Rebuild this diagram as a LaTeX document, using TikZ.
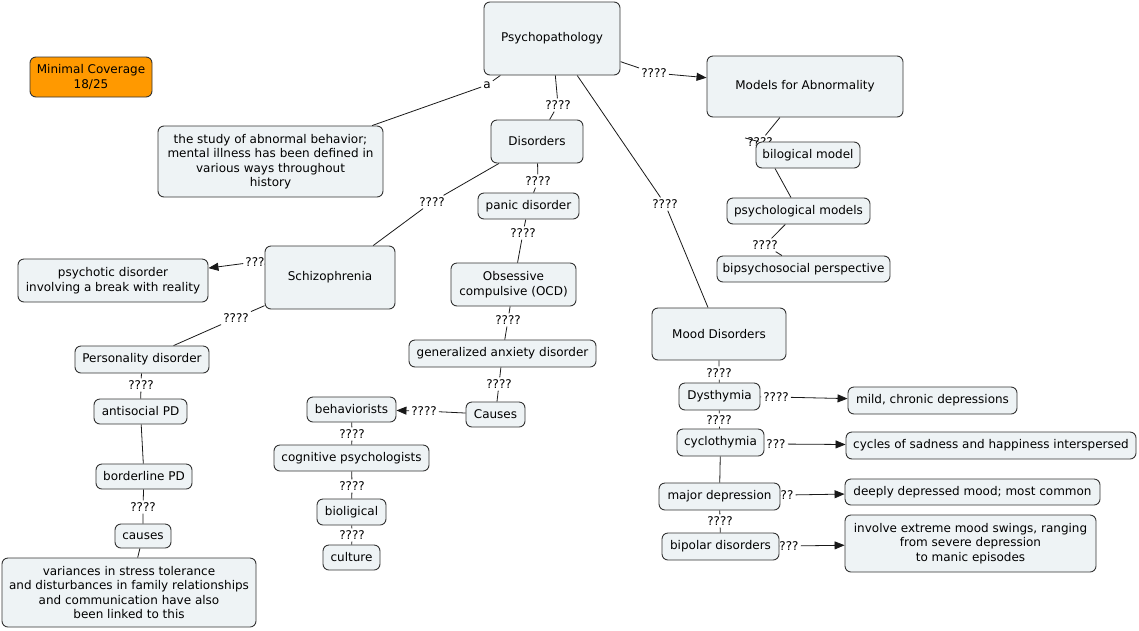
\documentclass[tikz,border=0pt]{standalone}
\usepackage{fontspec}
\setmainfont{DejaVu Sans}
\usetikzlibrary{arrows.meta,backgrounds}
\definecolor{boxfill}{HTML}{EEF3F5}
\definecolor{orangefill}{HTML}{FF9900}
\definecolor{edgecol}{HTML}{333333}
\newcommand{\bnode}[7][]{%
  \node[box,#1,minimum width={#5pt-#3pt},minimum height={#6pt-#4pt}] (#2) at ({(#3+#5)/2},{(#4+#6)/2}) {#7};}
\begin{document}
\begin{tikzpicture}[x=1pt,y=-1pt,
  font=\fontsize{12}{14.5}\selectfont,
  box/.style={draw=edgecol, fill=boxfill, rounded corners=6pt, line width=0.9pt, inner sep=0pt, align=center},
  lab/.style={fill=white, inner sep=2pt, font=\fontsize{12}{13}\selectfont},
  conn/.style={draw=black!90, line width=0.8pt},
  arr/.style={conn, -{Triangle[length=10pt,width=8pt]}}]
\useasboundingbox (0,0) rectangle (1139,630);

% nodes
\bnode[fill=orangefill]{mc}{30}{57}{152}{97}{Minimal Coverage\\18/25}
\bnode{psy}{484}{2}{620}{75}{Psychopathology}
\bnode{study}{158}{126}{383}{197}{the study of abnormal behavior;\\mental illness has been defined in\\various ways throughout\\history}
\bnode{dis}{491}{120}{583}{163}{Disorders}
\bnode{models}{707}{56}{903}{117}{Models for Abnormality}
\bnode{bil}{756}{142}{860}{168}{bilogical model}
\bnode{psym}{727}{198}{870}{224}{psychological models}
\bnode{bips}{717}{256}{890}{282}{bipsychosocial perspective}
\bnode{panic}{478}{193}{579}{219}{panic disorder}
\bnode{schizo}{265}{246}{395}{309}{Schizophrenia}
\bnode{psyc}{18}{259}{208}{302}{psychotic disorder\\involving a break with reality}
\bnode{ocd}{451}{263}{576}{306}{Obsessive\\compulsive (OCD)}
\bnode{pers}{75}{346}{209}{373}{Personality disorder}
\bnode{gad}{409}{340}{596}{367}{generalized anxiety disorder}
\bnode{causes}{466}{402}{525}{427}{Causes}
\bnode{behav}{307}{397}{396}{422}{behaviorists}
\bnode{cogn}{274}{445}{429}{471}{cognitive psychologists}
\bnode{biol}{317}{499}{386}{525}{bioligical}
\bnode{cult}{323}{545}{380}{570}{culture}
\bnode{anti}{94}{399}{187}{424}{antisocial PD}
\bnode{bord}{96}{464}{192}{489}{borderline PD}
\bnode{caus2}{115}{524}{171}{548}{causes}
\bnode{vari}{2}{558}{256}{627}{variances in stress tolerance\\and disturbances in family relationships\\and communication have also\\been linked to this}
\bnode{mood}{652}{308}{786}{360}{Mood Disorders}
\bnode{dys}{679}{383}{760}{410}{Dysthymia}
\bnode{cyc}{677}{429}{764}{456}{cyclothymia}
\bnode{major}{659}{483}{780}{510}{major depression}
\bnode{bip}{662}{533}{779}{560}{bipolar disorders}
\bnode{mild}{848}{387}{1017}{414}{mild, chronic depressions}
\bnode{cycles}{846}{432}{1136}{459}{cycles of sadness and happiness interspersed}
\bnode{deep}{845}{479}{1100}{505}{deeply depressed mood; most common}
\bnode{invol}{845}{515}{1096}{572}{involve extreme mood swings, ranging\\from severe depression\\to manic episodes}

% connectors
\begin{scope}[on background layer]
\node[lab] (la) at (487,85) {a};
\draw[conn] (psy) -- (la) -- (study);

\node[lab] (l1) at (558,105) {????};
\draw[conn] (psy) -- (l1) -- (dis);

\node[lab] (l2) at (654,73) {????};
\draw[conn] (psy) -- (l2);
\draw[arr] (l2) -- (models);

\node[lab] (l3) at (665,204) {????};
\draw[conn] (psy) -- (l3) -- (mood);

\node[lab] (l4) at (760,142) {????};
\draw[conn] (models) -- (l4) -- (bil);

\draw[conn] (bil.south -| 775,0) -- (psym.north -| 791,0);

\node[lab] (l5) at (765,245) {????};
\draw[conn] (psym) -- (l5) -- (bips);

\node[lab] (l6) at (538,181) {????};
\draw[conn] (dis) -- (l6) -- (panic);

\node[lab] (l7) at (432,202) {????};
\draw[conn] (dis) -- (l7) -- (schizo);

\node[lab] (l8) at (523,233) {????};
\draw[conn] (panic) -- (l8) -- (ocd);

\node[lab] (l9) at (255,262) {???};
\draw[conn] (schizo) -- (l9);
\draw[arr] (l9) -- (psyc);

\node[lab] (l10) at (236,318) {????};
\draw[conn] (schizo) -- (l10) -- (pers);

\node[lab] (l11) at (508,320) {????};
\draw[conn] (ocd) -- (l11) -- (gad);

\node[lab] (l12) at (499,384) {????};
\draw[conn] (gad) -- (l12) -- (causes);

\node[lab] (l13) at (424,411) {????};
\draw[conn] (causes) -- (l13);
\draw[arr] (l13) -- (behav);

\node[lab] (l14) at (352,434) {????};
\draw[conn] (behav) -- (l14) -- (cogn);

\node[lab] (l15) at (352,486) {????};
\draw[conn] (cogn) -- (l15) -- (biol);

\node[lab] (l16) at (352,535) {????};
\draw[conn] (biol) -- (l16) -- (cult);

\node[lab] (l17) at (141,385) {????};
\draw[conn] (pers) -- (l17) -- (anti);

\draw[conn] (anti) -- (bord);

\node[lab] (l18) at (143,507) {????};
\draw[conn] (bord) -- (l18) -- (caus2);

\draw[conn] (caus2) -- (vari);

\node[lab] (l19) at (719,373) {????};
\draw[conn] (mood) -- (l19) -- (dys);

\node[lab] (l20) at (719,420) {????};
\draw[conn] (dys) -- (l20) -- (cyc);

\draw[conn] (cyc) -- (major);

\node[lab] (l21) at (720,521) {????};
\draw[conn] (major) -- (l21) -- (bip);

\node[lab] (l22) at (776,397) {????};
\draw[conn] (dys) -- (l22);
\draw[arr] (l22) -- (mild);

\node[lab] (l23) at (776,444) {???};
\draw[conn] (cyc) -- (l23);
\draw[arr] (l23) -- (cycles);

\node[lab] (l24) at (787,495) {??};
\draw[conn] (major) -- (l24);
\draw[arr] (l24) -- (deep);

\node[lab] (l25) at (789,546) {???};
\draw[conn] (bip) -- (l25);
\draw[arr] (l25) -- (invol);
\end{scope}
\end{tikzpicture}
\end{document}
